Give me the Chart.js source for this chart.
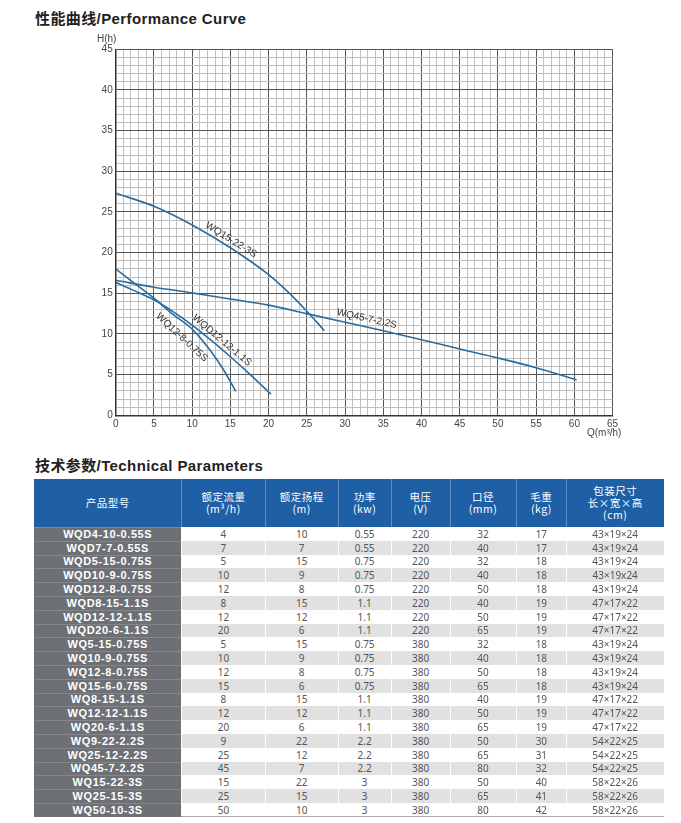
<!DOCTYPE html>
<html>
<head>
<meta charset="utf-8">
<script src="https://cdn.jsdelivr.net/npm/chart.js@4.4.0/dist/chart.umd.min.js"></script>
<style>
  html, body { margin:0; padding:0; background:#fff; }
  body { width:681px; height:823px; position:relative; overflow:hidden; font-family:"Liberation Sans", Arial, sans-serif; }
  .title { position:absolute; left:35px; font:bold 15px "Liberation Sans", "Noto Sans CJK SC", sans-serif; color:#222; letter-spacing:0.4px; white-space:nowrap; }
  #chartWrap { position:absolute; left:0; top:0; width:681px; height:440px; }
  .axlab { position:absolute; font:10px "Liberation Sans", Arial, sans-serif; color:#444; white-space:nowrap; }
  table { position:absolute; left:34px; top:479px; border-collapse:separate; border-spacing:0; table-layout:fixed; width:630px; }
  th { background:#1f5fa6; color:#fff; font:10.5px "Noto Sans CJK SC", sans-serif; line-height:12px; font-weight:normal; height:48px; padding:0; box-shadow: inset 1px 0 0 #5d8cc4; text-align:center; vertical-align:middle; letter-spacing:0.5px; }
  th:first-child { box-shadow:none; }
  tr.row { height:13.8px; }
  td { height:13.8px; padding:0; text-align:center; font:10px "Noto Sans", sans-serif; color:#555; line-height:12px; box-shadow: inset 1px 0 0 #fff; white-space:nowrap; overflow:hidden; vertical-align:middle; }
  td.model { background:#6d7075; color:#fff; font:bold 11px "Liberation Sans", Arial, sans-serif; letter-spacing:0.6px; box-shadow: inset 0 1px 0 #83868b; }
  tr.odd td:not(.model) { background:#fff; }
  tr.even td:not(.model) { background:#e1e1e1; }
  tr:last-child td:not(.model) { box-shadow: inset 0 -1px 0 #aaa, inset 1px 0 0 #fff; }
</style>
</head>
<body>
<div class="title" style="top:7px;">性能曲线/Performance Curve</div>
<div id="chartWrap"><canvas id="c" width="681" height="440"></canvas></div>
<div class="axlab" style="left:97px;top:33px;">H(h)</div>
<div class="axlab" style="left:587px;top:427px;">Q(m³/h)</div>
<div class="title" style="top:454px;">技术参数/Technical Parameters</div>
<table id="tbl"></table>
<script>
// ---------- Curve data (Q in m³/h, H in m) ----------
const curveNames = ['WQ15-22-3S', 'WQ45-7-2.2S', 'WQD12-12-1.1S', 'WQ12-8-0.75S'];
const qWQ15_22 = [0, 5, 10, 15, 20, 22.5, 25, 27.3];
const hWQ15_22 = [27.3, 25.7, 23.4, 20.6, 17.3, 15.2, 12.8, 10.4];
const qWQ45_7 = [0, 5, 10, 15, 20, 25, 30, 35, 40, 45, 50, 55, 60.3];
const hWQ45_7 = [16.6, 15.75, 15.05, 14.3, 13.55, 12.5, 11.45, 10.4, 9.3, 8.15, 7.05, 5.85, 4.35];
const qWQD12_12 = [0, 2.5, 5, 7.5, 10, 12.5, 15, 17.5, 20.3];
const hWQD12_12 = [16.35, 15.3, 14.2, 12.75, 11.1, 9.2, 7.2, 5.1, 2.6];
const qWQ12_8 = [0, 2.5, 5, 7.5, 10, 12.35, 14.1, 15.7];
const hWQ12_8 = [18.0, 16.2, 14.4, 12.4, 10.6, 8.0, 5.6, 2.95];

// axis ticks
const xMin = 0, xMax = 65, yMin = 0, yMax = 45;

// label placement along curves (Q where label sits, perpendicular offset in px)
const labelQ = [14.6, 32.6, 13.3, 9.8];
const labelOffset = [7, 8, 7, -13];

// ---------- Table data ----------
const headers = [['产品型号'], ['额定流量', '(m³/h)'], ['额定扬程', '(m)'], ['功率', '(kw)'], ['电压', '(V)'], ['口径', '(mm)'], ['毛重', '(kg)'], ['包装尺寸', '长×宽×高', '(cm)']];
const models = ['WQD4-10-0.55S','WQD7-7-0.55S','WQD5-15-0.75S','WQD10-9-0.75S','WQD12-8-0.75S','WQD8-15-1.1S','WQD12-12-1.1S','WQD20-6-1.1S','WQ5-15-0.75S','WQ10-9-0.75S','WQ12-8-0.75S','WQ15-6-0.75S','WQ8-15-1.1S','WQ12-12-1.1S','WQ20-6-1.1S','WQ9-22-2.2S','WQ25-12-2.2S','WQ45-7-2.2S','WQ15-22-3S','WQ25-15-3S','WQ50-10-3S'];
const flow = [4,7,5,10,12,8,12,20,5,10,12,15,8,12,20,9,25,45,15,25,50];
const head = [10,7,15,9,8,15,12,6,15,9,8,6,15,12,6,22,12,7,22,15,10];
const power = ['0.55','0.55','0.75','0.75','0.75','1.1','1.1','1.1','0.75','0.75','0.75','0.75','1.1','1.1','1.1','2.2','2.2','2.2','3','3','3'];
const voltage = [220,220,220,220,220,220,220,220,380,380,380,380,380,380,380,380,380,380,380,380,380];
const caliber = [32,40,32,40,50,40,50,65,32,40,50,65,40,50,65,50,65,80,50,65,80];
const weight = [17,17,18,18,18,19,19,19,18,18,18,18,19,19,19,30,31,32,40,41,42];
const packSize = ['43×19×24','43×19×24','43×19×24','43×19x24','43×19×24','47×17×22','47×17×22','47×17×22','43×19×24','43×19×24','43×19×24','43×19×24','47×17×22','47×17×22','47×17×22','54×22×25','54×22×25','54×22×25','58×22×26','58×22×26','58×22×26'];

// ---------- Build table ----------
(function buildTable(){
  const widths = [147.4, 84, 72.6, 53.4, 58.3, 66.7, 50, 97.6];
  const tbl = document.getElementById('tbl');
  const cg = document.createElement('colgroup');
  widths.forEach(w => { const c = document.createElement('col'); c.style.width = w + 'px'; cg.appendChild(c); });
  tbl.appendChild(cg);
  const hr = document.createElement('tr');
  headers.forEach(lines => { const th = document.createElement('th'); th.innerHTML = lines.join('<br>'); hr.appendChild(th); });
  tbl.appendChild(hr);
  models.forEach((m, i) => {
    const tr = document.createElement('tr');
    tr.className = 'row ' + ((i % 2 === 0) ? 'odd' : 'even');
    const vals = [m, flow[i], head[i], power[i], voltage[i], caliber[i], weight[i], packSize[i]];
    vals.forEach((v, j) => { const td = document.createElement('td'); td.textContent = v; if (j === 0) td.className = 'model'; tr.appendChild(td); });
    tbl.appendChild(tr);
  });
})();

// ---------- Chart ----------
const curveQ = [qWQ15_22, qWQ45_7, qWQD12_12, qWQ12_8];
const curveH = [hWQ15_22, hWQ45_7, hWQD12_12, hWQ12_8];
const lineColor = '#2b6c9f';

const datasets = curveNames.map((name, i) => ({
  label: name,
  data: curveQ[i].map((q, k) => ({ x: q, y: curveH[i][k] })),
  borderColor: lineColor,
  borderWidth: 1.6,
  pointRadius: 0,
  fill: false,
  cubicInterpolationMode: 'monotone'
}));

function interp(qs, hs, q) {
  for (let k = 0; k < qs.length - 1; k++) {
    if (q >= qs[k] && q <= qs[k + 1]) {
      const t = (q - qs[k]) / (qs[k + 1] - qs[k]);
      return hs[k] + t * (hs[k + 1] - hs[k]);
    }
  }
  return hs[hs.length - 1];
}

const curveLabels = {
  id: 'curveLabels',
  afterDatasetsDraw(chart) {
    const ctx = chart.ctx, xs = chart.scales.x, ys = chart.scales.y;
    ctx.save();
    ctx.font = '10px "Liberation Sans", Arial, sans-serif';
    ctx.fillStyle = '#333';
    ctx.textAlign = 'center';
    ctx.textBaseline = 'middle';
    curveNames.forEach((name, i) => {
      const q = labelQ[i];
      const px = xs.getPixelForValue(q), py = ys.getPixelForValue(interp(curveQ[i], curveH[i], q));
      const p1x = xs.getPixelForValue(q - 1), p1y = ys.getPixelForValue(interp(curveQ[i], curveH[i], q - 1));
      const p2x = xs.getPixelForValue(q + 1), p2y = ys.getPixelForValue(interp(curveQ[i], curveH[i], q + 1));
      const ang = Math.atan2(p2y - p1y, p2x - p1x);
      const nx = Math.sin(ang), ny = -Math.cos(ang);
      const cx = px + nx * labelOffset[i], cy = py + ny * labelOffset[i];
      ctx.save();
      ctx.translate(cx, cy);
      ctx.rotate(ang);
      ctx.fillText(name, 0, 0);
      ctx.restore();
    });
    ctx.restore();
  }
};

const gridColor = (c) => (c.tick && c.tick.value % 5 === 0) ? '#555' : '#c0c0c0';
const tickCb = (v) => (v % 5 === 0 ? String(v) : '');

new Chart(document.getElementById('c'), {
  type: 'line',
  data: { datasets },
  options: {
    responsive: false,
    animation: false,
    layout: { padding: { top: 49.3, right: 68.4, left: 0, bottom: 0 } },
    plugins: { legend: { display: false }, tooltip: { enabled: false } },
    scales: {
      x: {
        type: 'linear', min: xMin, max: xMax,
        afterFit: (s) => { s.height = 440 - 415.3; },
        ticks: { stepSize: 1, autoSkip: false, maxRotation: 0, callback: tickCb, color: '#444', font: { size: 10, family: '"Liberation Sans", Arial, sans-serif' }, padding: 3 },
        grid: { color: gridColor, lineWidth: 1, drawTicks: false },
        border: { color: '#333', width: 1.5 }
      },
      y: {
        type: 'linear', min: yMin, max: yMax,
        afterFit: (s) => { s.width = 115.7; },
        ticks: { stepSize: 1, autoSkip: false, callback: tickCb, color: '#444', font: { size: 10, family: '"Liberation Sans", Arial, sans-serif' }, padding: 3 },
        grid: { color: gridColor, lineWidth: 1, drawTicks: false },
        border: { color: '#333', width: 1.5 }
      }
    }
  },
  plugins: [curveLabels]
});
</script>
</body>
</html>
